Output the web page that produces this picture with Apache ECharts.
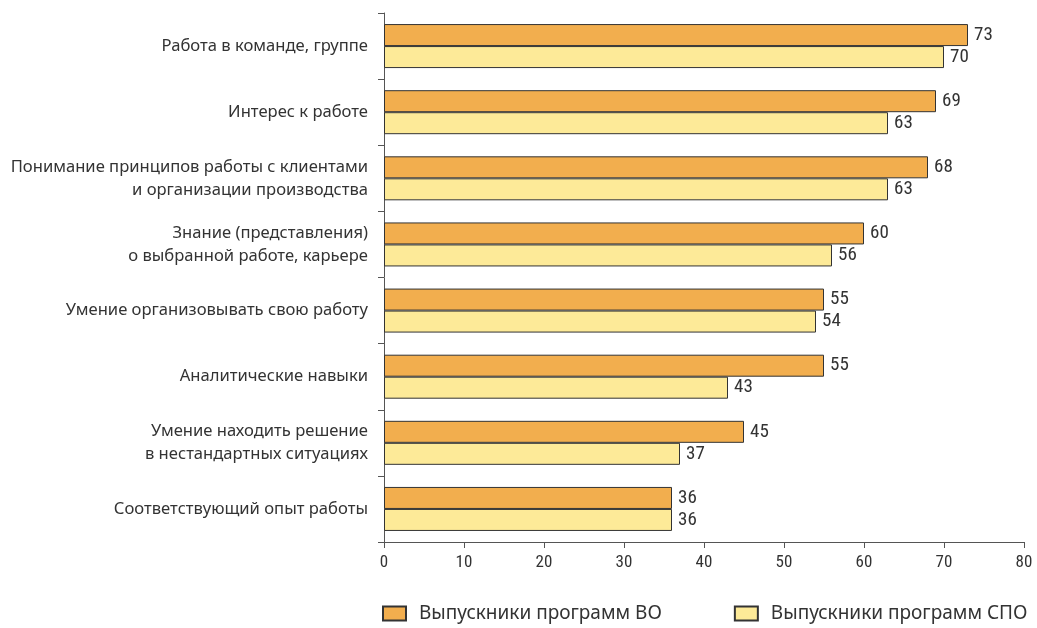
<!DOCTYPE html>
<html><head><meta charset="utf-8">
<script src="https://cdn.jsdelivr.net/npm/echarts@6/dist/echarts.min.js"></script>
<style>html,body{margin:0;padding:0;background:#fff}#c{width:1037px;height:628px}</style>
</head><body><div id="c"></div>
<script>
const categories = [
  "Работа в команде, группе",
  "Интерес к работе",
  "Понимание принципов работы с клиентами\nи организации производства",
  "Знание (представления)\nо выбранной работе, карьере",
  "Умение организовывать свою работу",
  "Аналитические навыки",
  "Умение находить решение\nв нестандартных ситуациях",
  "Соответствующий опыт работы"
];
const seriesNames = ["Выпускники программ ВО", "Выпускники программ СПО"];
const valuesVO = [73, 69, 68, 60, 55, 55, 45, 36];
const valuesSPO = [70, 63, 63, 56, 54, 43, 37, 36];
const xTicks = [0, 10, 20, 30, 40, 50, 60, 70, 80];

const narrow = '"Liberation Sans Narrow", "Roboto Condensed", "Arial Narrow", sans-serif';
const sans = '"Noto Sans", "Open Sans", sans-serif';
const chart = echarts.init(document.getElementById('c'), null, {renderer: 'canvas'});
const labelStyle = {show: true, position: 'right', distance: 6, fontFamily: narrow, fontSize: 19, color: '#333'};
chart.setOption({
  animation: false,
  grid: {left: 384, right: 13, top: 13, bottom: 86, containLabel: false},
  legend: {
    bottom: 0, left: 377,
    icon: 'rect',
    itemWidth: 23, itemHeight: 14, itemGap: 72,
    textStyle: {fontFamily: sans, fontSize: 19, color: '#333', padding: [0, 0, 0, 8]},
    data: seriesNames
  },
  xAxis: {
    type: 'value', min: xTicks[0], max: xTicks[xTicks.length - 1], interval: 10,
    axisLine: {show: true, lineStyle: {color: '#555', width: 1}},
    axisTick: {show: true, length: 6, lineStyle: {color: '#555'}},
    splitLine: {show: false},
    axisLabel: {fontFamily: narrow, fontSize: 17, color: '#333', margin: 12}
  },
  yAxis: {
    type: 'category', data: categories, inverse: true,
    axisLine: {show: true, lineStyle: {color: '#555', width: 1}},
    axisTick: {show: true, length: 6, lineStyle: {color: '#555'}},
    axisLabel: {fontFamily: sans, fontSize: 16.6, color: '#333', margin: 16, lineHeight: 23, align: 'right'}
  },
  series: [
    {name: seriesNames[0], type: 'bar', data: valuesVO, barWidth: 22, barGap: '0%',
     itemStyle: {color: '#F2AE4E', borderColor: '#333', borderWidth: 1}, label: labelStyle},
    {name: seriesNames[1], type: 'bar', data: valuesSPO, barWidth: 22, barGap: '0%',
     itemStyle: {color: '#FDEA98', borderColor: '#333', borderWidth: 1}, label: labelStyle}
  ]
});
</script></body></html>
